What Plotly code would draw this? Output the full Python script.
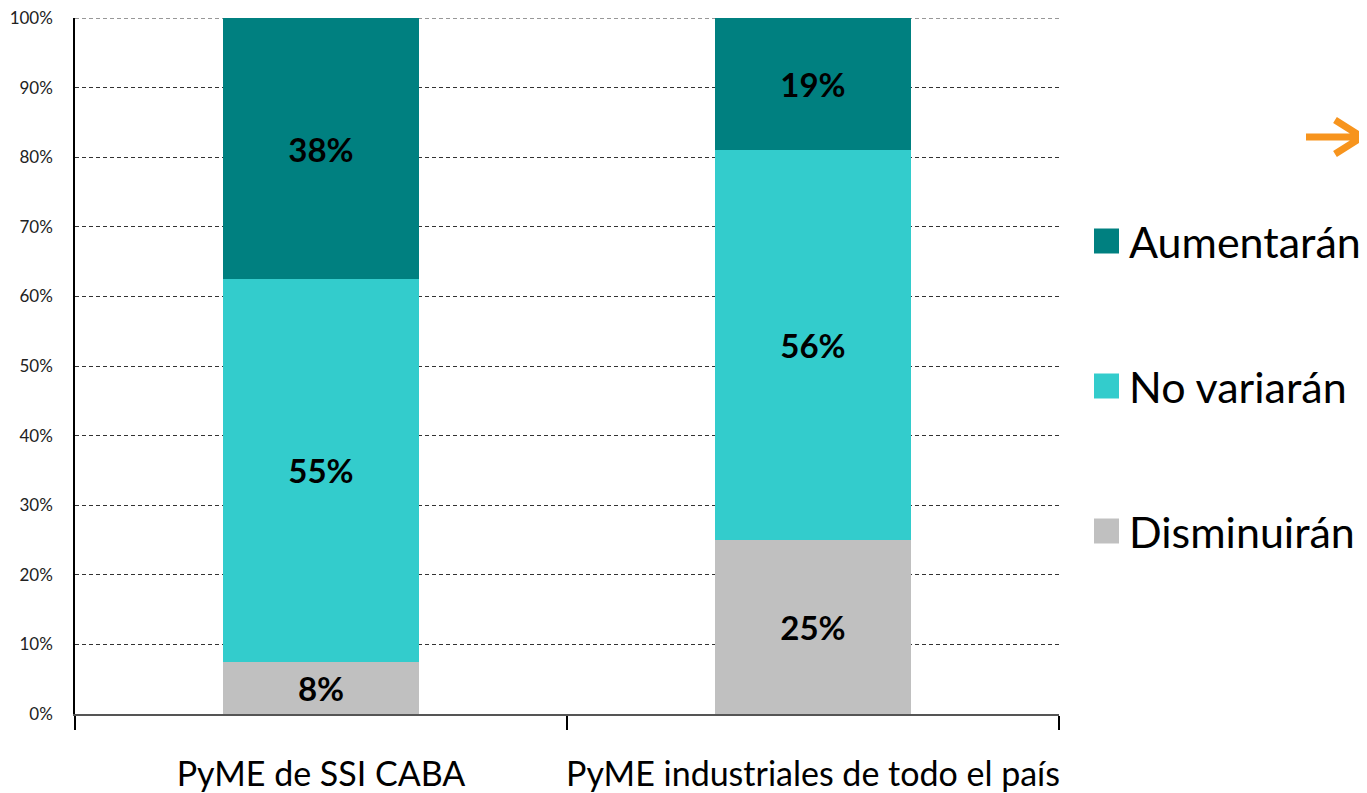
import plotly.graph_objects as go

categories = ["PyME de SSI CABA", "PyME industriales de todo el país"]
series_names = ["Disminuirán", "No variarán", "Aumentarán"]
disminuiran = [7.5, 25]
no_variaran = [55, 56]
aumentaran = [37.5, 19]
colors = ["#C0C0C0", "#33CCCC", "#008080"]
y_ticks = [0, 10, 20, 30, 40, 50, 60, 70, 80, 90, 100]

FONT = "Lato"
OFF = 7  # page offset of the plot div
W, H = 1367 - OFF, 793 - OFF
L, R, T, B = 74 - OFF, 1058 - OFF, 17 - OFF, 713 - OFF

def px(x):
    return (x - OFF - L) / (R - L)

def py(y):
    return (B - (y - OFF)) / (B - T)

fig = go.Figure()
for name, vals, col in zip(series_names, [disminuiran, no_variaran, aumentaran], colors):
    fig.add_trace(go.Bar(
        x=categories, y=vals, name=name, marker=dict(color=col, line=dict(width=0)),
        text=vals, texttemplate="<b>%{y:.0f}%</b>", textposition="inside",
        insidetextanchor="middle", textangle=0,
        textfont=dict(family=FONT, size=33, color="#000000"),
        showlegend=False, hoverinfo="skip",
    ))

shapes = []
annotations = []
# top gridline at 100%
shapes.append(dict(type="line", xref="paper", yref="y", x0=0, x1=1, y0=y_ticks[-1], y1=y_ticks[-1],
                   line=dict(color="#333333", width=1, dash="4px,3px"), layer="below"))
# manual legend (top to bottom: Aumentarán, No variarán, Disminuirán)
legend_y = [240, 385, 530]
for name, col, yc in zip(series_names[::-1], colors[::-1], legend_y):
    shapes.append(dict(type="rect", xref="paper", yref="paper",
                       x0=px(1093), x1=px(1118), y0=py(yc + 12.5), y1=py(yc - 12.5),
                       fillcolor=col, line=dict(width=0)))
    annotations.append(dict(xref="paper", yref="paper", x=px(1126), y=py(yc),
                            text=name, showarrow=False, xanchor="left", yanchor="middle",
                            font=dict(family=FONT, size=43, color="#000000")))

# orange arrow
arrow_path = "M{a},{b} L{c},{b} M{d},{e} L{c},{b} L{d},{f}".format(
    a=px(1305), b=py(136), c=px(1361), d=px(1334), e=py(119), f=py(153))
shapes.append(dict(type="path", xref="paper", yref="paper", path=arrow_path,
                   line=dict(color="#F7941D", width=7)))

fig.update_layout(
    width=W, height=H,
    margin=dict(l=L, r=W - R, t=T, b=H - B, autoexpand=False),
    paper_bgcolor="white", plot_bgcolor="white",
    barmode="stack", bargap=0.6,
    shapes=shapes, annotations=annotations,
    font=dict(family=FONT, color="#000000"),
    showlegend=False,
)
fig.update_yaxes(
    range=[0, 100], tickvals=y_ticks, ticktext=[f"{v}%" for v in y_ticks],
    tickfont=dict(family=FONT, size=17, color="#222222"),
    showgrid=True, gridcolor="#333333", gridwidth=1, griddash="4px,3px",
    showline=True, linecolor="#000000", linewidth=1.5,
    ticks="", ticklabelstandoff=17, zeroline=False, automargin=False,
    ticklabeloverflow="allow",
)
fig.update_xaxes(
    showgrid=False, showline=True, linecolor="#555555", linewidth=1.5,
    ticks="outside", ticklen=14, tickcolor="#000000", tickwidth=1.5,
    tickson="boundaries", automargin=False, tickangle=0,
    tickfont=dict(family=FONT, size=34, color="#000000"),
    ticklabelstandoff=29, ticklabeloverflow="allow",
)

fig.write_html("out.html")
